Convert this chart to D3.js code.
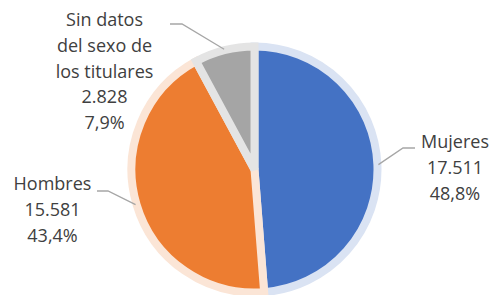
<!DOCTYPE html>
<html>
<head>
<meta charset="utf-8">
<script src="https://cdn.jsdelivr.net/npm/d3@7"></script>
<style>
  html, body { margin: 0; padding: 0; background: #fff; }
  svg { display: block; }
  .lbl { font-family: "Open Sans", sans-serif; font-size: 18px; fill: #404040; }
</style>
</head>
<body>
<div class="canvas"></div>
<script>
// data
const categories = ['Mujeres', 'Hombres', 'Sin datos del sexo de los titulares']
const values = [17511, 15581, 2828]
const valueLabels = ['17.511', '15.581', '2.828']
const percentLabels = ['48,8%', '43,4%', '7,9%']
const nameLines = [['Mujeres'], ['Hombres'], ['Sin datos', 'del sexo de', 'los titulares']]

const colors = ['#4472C4', '#ED7D31', '#A5A5A5']
const lightColors = ['#DAE3F3', '#FBE5D6', '#E4E4E4']

let width = 490,
    height = 295,
    cx = 254.5,
    cy = 169.5,
    radius = 123,
    ring = 8,
    lineH = 25.8

// label layout, relative to pie center
let labelPos = [
    { x: 200.5, y: -21.5, elbow: [148.5, -21.5], end: [160.5, -21.5] },
    { x: -202, y: 20.5, elbow: [-146.5, 21.5], end: [-157.5, 21.5] },
    { x: -150, y: -143.5, elbow: [-72.5, -145.5], end: [-84.5, -145.5] }
]

let svg = d3.select('.canvas').append('svg')
    .attr('width', width)
    .attr('height', height)

let g = svg.append('g').attr('transform', `translate(${cx},${cy})`)

let pie = d3.pie().sort(null).value(d => d)
let arcs = pie(values)
let arc = d3.arc().innerRadius(0).outerRadius(radius)

// SLICES
g.selectAll('.slice')
    .data(arcs)
    .enter().append('path').classed('slice', true)
    .attr('d', arc)
    .attr('fill', (d, i) => colors[i])
    .attr('stroke', (d, i) => lightColors[i])
    .attr('stroke-width', ring)
    .attr('stroke-linejoin', 'miter')

// LEADER LINES
let r0 = radius + 1
g.selectAll('.leader')
    .data(arcs)
    .enter().append('polyline').classed('leader', true)
    .attr('points', (d, i) => {
        let a = (d.startAngle + d.endAngle) / 2
        let p = labelPos[i]
        return [[Math.sin(a) * r0, -Math.cos(a) * r0], p.elbow, p.end].map(q => q.join(',')).join(' ')
    })
    .attr('fill', 'none')
    .attr('stroke', '#A6A6A6')
    .attr('stroke-width', 1.3)

// LABELS
arcs.forEach((d, i) => {
    let lines = nameLines[i].concat([valueLabels[i], percentLabels[i]])
    let p = labelPos[i]
    let t = g.append('text').classed('lbl', true)
        .attr('text-anchor', 'middle')
    lines.forEach((s, k) => {
        t.append('tspan')
            .attr('x', p.x)
            .attr('y', p.y + k * lineH)
            .text(s)
    })
})
</script>
</body>
</html>
